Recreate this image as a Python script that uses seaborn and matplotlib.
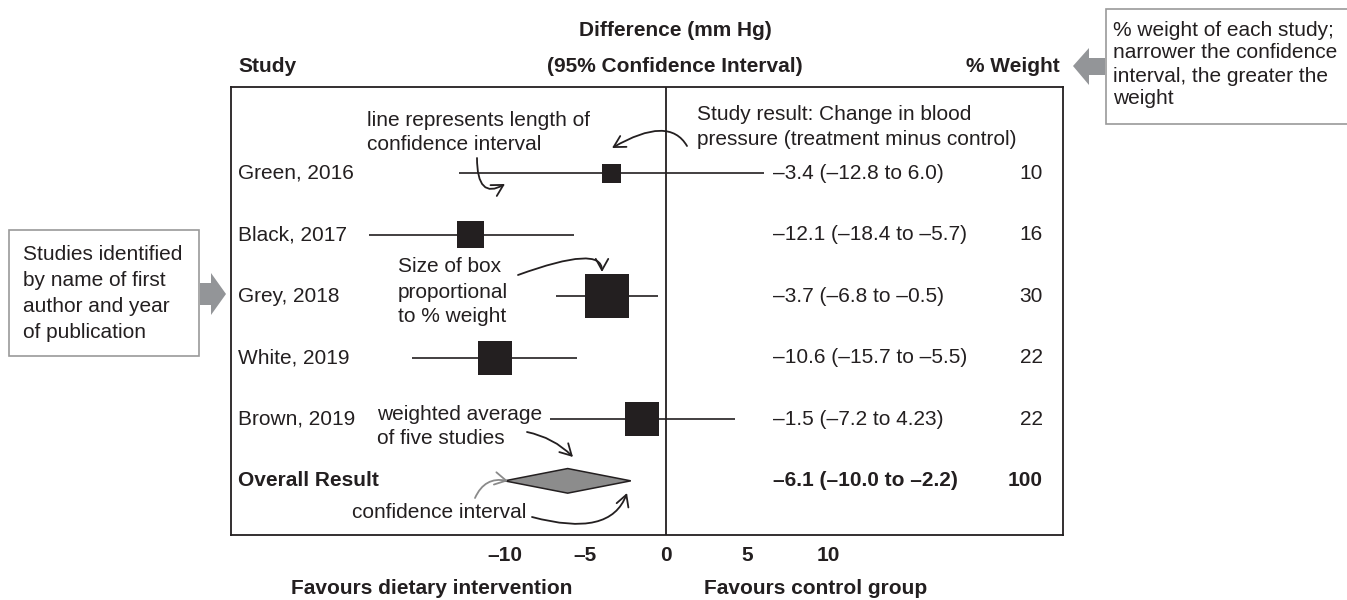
import numpy as np
import pandas as pd
import matplotlib
matplotlib.use("Agg")
import matplotlib.pyplot as plt
from matplotlib.patches import Polygon, Rectangle, FancyArrowPatch
from matplotlib.transforms import blended_transform_factory
import seaborn as sns

# ---- data -------------------------------------------------------------
studies = ["Green, 2016", "Black, 2017", "Grey, 2018", "White, 2019", "Brown, 2019"]
effect = [-3.4, -12.1, -3.7, -10.6, -1.5]
ci_low = [-12.8, -18.4, -6.8, -15.7, -7.2]
ci_high = [6.0, -5.7, -0.5, -5.5, 4.23]
weights = [10, 16, 30, 22, 22]

overall_label = "Overall Result"
overall_effect = -6.1
overall_low = -10.0
overall_high = -2.2
overall_weight = 100

x_ticks = [-10, -5, 0, 5, 10]

# ---- style ------------------------------------------------------------
W, H = 1347, 600
INK = "#231f20"
GREY = "#939598"
DIAMOND = "#8c8c8c"
FS = 15

sns.set_theme(style="white")
plt.rcParams["font.family"] = ["Liberation Sans", "DejaVu Sans"]
plt.rcParams["font.size"] = FS
plt.rcParams["text.color"] = INK


def dash(v):
    """Number as text with an en dash for the minus sign."""
    return str(v).replace("-", "\u2013")


def fx(x):
    return x / W


def fy(y):
    return 1 - y / H


def P(x, y):
    return (fx(x), fy(y))


fig = plt.figure(figsize=(W / 100, H / 100), dpi=100)
ax = fig.add_axes([fx(231), fy(535), fx(1063) - fx(231), fy(87) - fy(535)])

rows = np.arange(len(studies))
overall_row = len(studies)
df = pd.DataFrame({
    "study": studies, "effect": effect, "low": ci_low,
    "high": ci_high, "weight": weights, "row": rows,
})

# confidence interval whiskers
ax.hlines(df["row"], df["low"], df["high"], color=INK, lw=1.2, zorder=2)

# study boxes: side grows with the study weight
box_area = {w: ((6.5 + 1.25 * w) * 0.72) ** 2 for w in df["weight"].unique()}
sns.scatterplot(data=df, x="effect", y="row", size="weight", sizes=box_area,
                marker="s", color=INK, linewidth=0, legend=False, ax=ax,
                zorder=3)

# pooled estimate diamond
h = 0.2
ax.add_patch(Polygon([(overall_low, overall_row),
                      (overall_effect, overall_row - h),
                      (overall_high, overall_row),
                      (overall_effect, overall_row + h)],
                     closed=True, facecolor=DIAMOND, edgecolor=INK,
                     lw=1.1, zorder=3))

# line of no effect
ax.axvline(0, color=INK, lw=1.3, zorder=1)

ax.set_xlim(-26.9, 24.5)
ax.set_ylim(5.88, -1.40)
ax.set_xticks(x_ticks)
ax.set_xticklabels([dash(t) for t in x_ticks], fontweight="bold", fontsize=FS)
ax.tick_params(axis="x", length=0, pad=8, colors=INK)
ax.set_yticks([])
ax.set_xlabel("")
ax.set_ylabel("")
for sp in ax.spines.values():
    sp.set_visible(True)
    sp.set_color(INK)
    sp.set_linewidth(1.3)

# row texts: study name, effect (CI), weight
trans = blended_transform_factory(fig.transFigure, ax.transData)
for r, name, e, lo, hi, w in zip(rows, studies, effect, ci_low, ci_high, weights):
    ax.text(fx(238), r, name, transform=trans, va="center", ha="left")
    ax.text(fx(773), r, f"{dash(e)} ({dash(lo)} to {dash(hi)})",
            transform=trans, va="center", ha="left")
    ax.text(fx(1043), r, str(w), transform=trans, va="center", ha="right")
ax.text(fx(238), overall_row, overall_label, transform=trans, va="center",
        ha="left", fontweight="bold")
ax.text(fx(773), overall_row,
        f"{dash(overall_effect)} ({dash(overall_low)} to {dash(overall_high)})",
        transform=trans, va="center", ha="left", fontweight="bold")
ax.text(fx(1043), overall_row, str(overall_weight), transform=trans,
        va="center", ha="right", fontweight="bold")

# column headers and axis captions
fig.text(fx(675), fy(30), "Difference (mm Hg)", ha="center", va="center",
         fontweight="bold")
fig.text(fx(238), fy(67), "Study", ha="left", va="center", fontweight="bold")
fig.text(fx(675), fy(67), "(95% Confidence Interval)", ha="center",
         va="center", fontweight="bold")
fig.text(fx(1060), fy(67), "% Weight", ha="right", va="center",
         fontweight="bold")
fig.text(fx(432), fy(588), "Favours dietary intervention", ha="center",
         va="center", fontweight="bold")
fig.text(fx(816), fy(588), "Favours control group", ha="center",
         va="center", fontweight="bold")


def text_lines(x, y0, step, lines, **kw):
    for i, s in enumerate(lines):
        fig.text(fx(x), fy(y0 + i * step + 7.5), s, ha="left",
                 va="baseline", **kw)


# explanatory notes inside the plot
text_lines(367, 118, 24, ["line represents length of", "confidence interval"])
text_lines(697, 112, 26, ["Study result: Change in blood",
                          "pressure (treatment minus control)"])
text_lines(398, 265, 25, ["Size of box", "proportional", "to % weight"])
text_lines(377, 412, 24, ["weighted average", "of five studies"])
text_lines(352, 511, 24, ["confidence interval"])


def curved(a, b, style, color=INK):
    fig.add_artist(FancyArrowPatch(
        P(*a), P(*b), transform=fig.transFigure, connectionstyle=style,
        arrowstyle="->,head_length=0.45,head_width=0.25", mutation_scale=18,
        color=color, lw=1.3, shrinkA=0, shrinkB=0))


curved((477, 158), (505, 184), "angle3,angleA=-90,angleB=30")
curved((687, 146), (612, 148), "angle3,angleA=120,angleB=30")
curved((518, 275), (602, 272), "angle3,angleA=20,angleB=90")
curved((527, 432), (573, 457), "arc3,rad=-0.15")
curved((475, 498), (508, 481), "arc3,rad=-0.4", color="#8a8a8a")
curved((532, 517), (627, 493), "angle3,angleA=-15,angleB=70")

# side call-out boxes with their pointers
fig.add_artist(Rectangle(P(9, 356), fx(190), 126 / H, transform=fig.transFigure,
                         facecolor="white", edgecolor="#9a9a9a", lw=1.2))
text_lines(23, 253, 26, ["Studies identified", "by name of first",
                         "author and year", "of publication"])
fig.add_artist(Polygon([P(200, 283), P(211, 283), P(211, 273), P(226, 294),
                        P(211, 315), P(211, 305), P(200, 305)],
                       closed=True, transform=fig.transFigure,
                       facecolor=GREY, edgecolor="none"))

fig.add_artist(Rectangle(P(1106, 124), fx(250), 115 / H,
                         transform=fig.transFigure, facecolor="white",
                         edgecolor="#9a9a9a", lw=1.2))
text_lines(1113, 28, 23, ["% weight of each study;", "narrower the confidence",
                          "interval, the greater the", "weight"])
fig.add_artist(Polygon([P(1105, 58), P(1089, 58), P(1089, 48), P(1073, 66),
                        P(1089, 85), P(1089, 75), P(1105, 75)],
                       closed=True, transform=fig.transFigure,
                       facecolor=GREY, edgecolor="none"))

fig.savefig("out.png", dpi=100, facecolor="white")
